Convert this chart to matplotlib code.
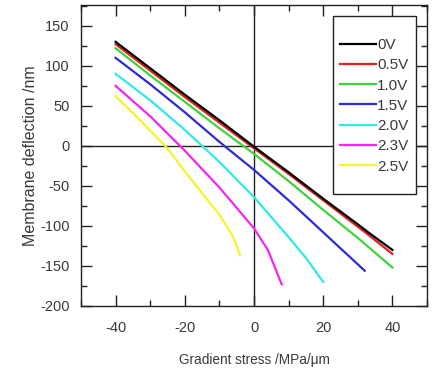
import matplotlib
matplotlib.use('Agg')
import matplotlib.pyplot as plt
from matplotlib.patches import Rectangle
from matplotlib.ticker import MultipleLocator

# ── datos ────────────────────────────────────────────────
labels = ['0V', '0.5V', '1.0V', '1.5V', '2.0V', '2.3V', '2.5V']
colors = ['#000000', '#e8211c', '#3ed23c', '#2b2bd8', '#2fe8e8', '#f028f0', '#f4f42a']

x_0v   = [-40, -30, -20, -10, 0, 10, 20, 30, 33, 40]
y_0v   = [130, 97, 64, 32, -1, -33, -66, -98, -108, -130]
x_05v  = [-40, -30, -20, -10, 0, 10, 20, 30, 33, 40]
y_05v  = [127, 94, 61, 29, -3, -35, -68, -101, -111, -135]
x_10v  = [-40, -30, -20, -10, 0, 10, 20, 30, 40]
y_10v  = [122, 88, 55, 22, -10, -44, -80, -115, -152]
x_15v  = [-40, -30, -20, -10, 0, 10, 20, 32]
y_15v  = [110, 77, 42, 5, -30, -68, -108, -156]
x_20v  = [-40, -30, -20, -10, 0, 10, 15, 20]
y_20v  = [90, 57, 20, -20, -64, -114, -140, -170]
x_23v  = [-40, -30, -20, -10, 0, 4, 8]
y_23v  = [75, 37, -6, -52, -103, -130, -173]
x_25v  = [-40, -35, -30, -25, -20, -15, -10, -6, -4]
y_25v  = [62, 41, 19, -3, -32, -59, -86, -114, -137]

series = [(x_0v, y_0v), (x_05v, y_05v), (x_10v, y_10v), (x_15v, y_15v),
          (x_20v, y_20v), (x_23v, y_23v), (x_25v, y_25v)]

TXT = '#3a3a3a'
AXC = '#222222'
plt.rcParams['font.family'] = ['Liberation Sans', 'DejaVu Sans']
plt.rcParams['axes.unicode_minus'] = False

fig = plt.figure(figsize=(4.34, 3.70), dpi=100)
ax = fig.add_axes([0.1866, 0.173, 0.7974, 0.8135])

ax.axhline(0, color=AXC, lw=1.0, zorder=1)
ax.axvline(0, color=AXC, lw=1.0, zorder=1)

# rojo debajo del negro
handles = {}
for i in [1, 0, 2, 3, 4, 5, 6]:
    xs, ys = series[i]
    ln, = ax.plot(xs, ys, color=colors[i], lw=1.6, label=labels[i], zorder=3)
    handles[i] = ln

ax.set_xlim(-50, 50)
ax.set_ylim(-200, 176)
ax.xaxis.set_major_locator(MultipleLocator(20))
ax.xaxis.set_minor_locator(MultipleLocator(10))
ax.yaxis.set_major_locator(MultipleLocator(50))
ax.yaxis.set_minor_locator(MultipleLocator(25))
ax.tick_params(which='both', direction='in', top=True, right=True,
               colors=AXC, labelcolor=TXT, labelsize=10.5, width=1.0)
ax.tick_params(which='major', length=8)
ax.tick_params(which='minor', length=4)
ax.tick_params(axis='x', which='major', pad=11)
ax.tick_params(axis='y', which='major', pad=8)
for sp in ax.spines.values():
    sp.set_color(AXC)
    sp.set_linewidth(1.0)

ax.set_xlabel('Gradient stress /MPa/\u03bcm', color=TXT, fontsize=9.8, labelpad=13)
ax.set_ylabel('Membrane deflection /nm', color=TXT, fontsize=11.5, labelpad=2)

# caja de la leyenda dibujada aparte
ax.add_patch(Rectangle((0.728, 0.372), 0.240, 0.591, transform=ax.transAxes,
                       facecolor='white', edgecolor=AXC, lw=1.0, zorder=5))
leg = ax.legend(handles=[handles[i] for i in range(7)], loc='center',
                bbox_to_anchor=(0.848, 0.665), fontsize=11, frameon=False,
                handlelength=2.3, handletextpad=0.1, labelspacing=0.41,
                borderpad=0, borderaxespad=0)
leg.set_zorder(6)
for t in leg.get_texts():
    t.set_color(TXT)

fig.savefig('out.png', dpi=100)
